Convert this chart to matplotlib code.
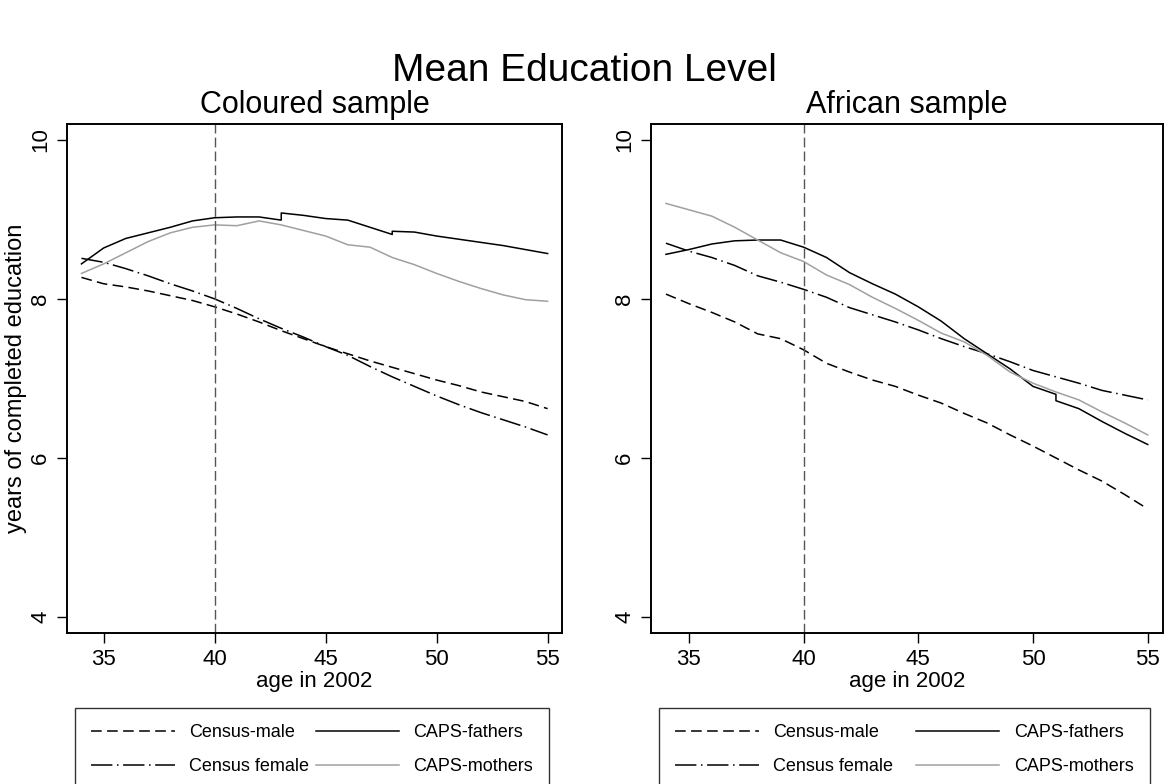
import numpy as np
import matplotlib
matplotlib.use("Agg")
import matplotlib.pyplot as plt

plt.rcParams['font.family'] = ['Liberation Sans', 'DejaVu Sans']

# ages (repeated age = step in the series)
age = list(range(34, 56))

# Coloured sample
col_male = [8.27, 8.19, 8.15, 8.10, 8.04, 7.98, 7.90, 7.81, 7.71, 7.60, 7.50,
            7.40, 7.31, 7.22, 7.14, 7.06, 6.98, 6.91, 6.83, 6.77, 6.71, 6.62]
col_female = [8.51, 8.46, 8.38, 8.29, 8.19, 8.10, 8.00, 7.88, 7.75, 7.63, 7.52,
              7.40, 7.29, 7.15, 7.02, 6.90, 6.78, 6.67, 6.57, 6.48, 6.39, 6.29]
col_fath_age = [34, 35, 36, 37, 38, 39, 40, 41, 42, 43, 43, 44, 45, 46, 47, 48,
                48, 49, 50, 51, 52, 53, 54, 55]
col_fathers = [8.44, 8.64, 8.76, 8.83, 8.90, 8.98, 9.02, 9.03, 9.03, 8.99, 9.08,
               9.05, 9.01, 8.99, 8.90, 8.81, 8.85, 8.84, 8.79, 8.75, 8.71, 8.67,
               8.62, 8.57]
col_mothers = [8.32, 8.44, 8.58, 8.72, 8.83, 8.90, 8.93, 8.92, 8.98, 8.93, 8.86,
               8.79, 8.68, 8.65, 8.52, 8.43, 8.32, 8.22, 8.13, 8.05, 7.99, 7.97]

# African sample
afr_male = [8.06, 7.94, 7.83, 7.71, 7.56, 7.50, 7.36, 7.19, 7.08, 6.98, 6.90,
            6.79, 6.69, 6.56, 6.44, 6.29, 6.15, 6.00, 5.85, 5.71, 5.54, 5.36]
afr_female = [8.70, 8.60, 8.52, 8.42, 8.29, 8.21, 8.12, 8.02, 7.89, 7.80, 7.71,
              7.61, 7.50, 7.40, 7.31, 7.21, 7.10, 7.02, 6.94, 6.85, 6.79, 6.73]
afr_fath_age = [34, 35, 36, 37, 38, 39, 40, 41, 42, 43, 44, 45, 46, 47, 48, 49,
                50, 51, 51, 52, 53, 54, 55]
afr_fathers = [8.56, 8.62, 8.69, 8.73, 8.74, 8.74, 8.65, 8.52, 8.33, 8.19, 8.06,
               7.90, 7.72, 7.50, 7.31, 7.12, 6.90, 6.80, 6.72, 6.62, 6.46, 6.31,
               6.17]
afr_mothers = [9.20, 9.12, 9.04, 8.90, 8.74, 8.58, 8.47, 8.30, 8.18, 8.02, 7.88,
               7.73, 7.57, 7.46, 7.29, 7.08, 6.94, 6.83, 6.73, 6.58, 6.44, 6.29]

xticks = [35, 40, 45, 50, 55]
yticks = [4, 6, 8, 10]
gray = '#a0a0a0'

fig = plt.figure(figsize=(11.68, 7.84), dpi=100)
fig.suptitle('Mean Education Level', fontsize=28, y=0.932)

ax1 = fig.add_axes([0.0574, 0.1926, 0.4238, 0.6494])
ax2 = fig.add_axes([0.5574, 0.1926, 0.4380, 0.6494])

panels = [
    (ax1, 'Coloured sample', col_male, col_female, col_fath_age, col_fathers, col_mothers),
    (ax2, 'African sample', afr_male, afr_female, afr_fath_age, afr_fathers, afr_mothers),
]

for ax, title, male, female, fage, fathers, mothers in panels:
    l1, = ax.plot(age, male, color='black', lw=1.1, dashes=(7, 3.5), label='Census-male')
    l2, = ax.plot(age, female, color='black', lw=1.1, dashes=(14, 3, 1, 3), label='Census female')
    l3, = ax.plot(fage, fathers, color='black', lw=1.1, label='CAPS-fathers')
    l4, = ax.plot(age, mothers, color=gray, lw=1.1, label='CAPS-mothers')
    ax.axvline(40, color='#555555', lw=1, dashes=(7, 3))
    ax.set_xlim(33.35, 55.65)
    ax.set_ylim(3.8, 10.2)
    ax.set_xticks(xticks)
    ax.set_yticks(yticks)
    ax.tick_params(axis='both', direction='out', length=7.5, width=1, labelsize=16, pad=4)
    for lab in ax.get_yticklabels():
        lab.set_rotation(90)
        lab.set_va('center')
    for s in ax.spines.values():
        s.set_linewidth(1.4)
    ax.set_title(title, fontsize=22, pad=8)
    ax.set_xlabel('age in 2002', fontsize=16, labelpad=1)
    bbox = ax.get_position()
    ax.legend(handles=[l1, l2, l3, l4], ncol=2, loc='upper left',
              bbox_to_anchor=(bbox.x0 + 0.007, 0.0, bbox.width - 0.018, 0.097),
              bbox_transform=fig.transFigure, mode='expand', fontsize=13,
              frameon=True, fancybox=False, edgecolor='black', borderpad=0.9,
              handlelength=4.6, handletextpad=0.8, labelspacing=0.95,
              borderaxespad=0)

ax1.set_ylabel('years of completed education', fontsize=17, labelpad=2)

fig.savefig('out.png', dpi=100)
